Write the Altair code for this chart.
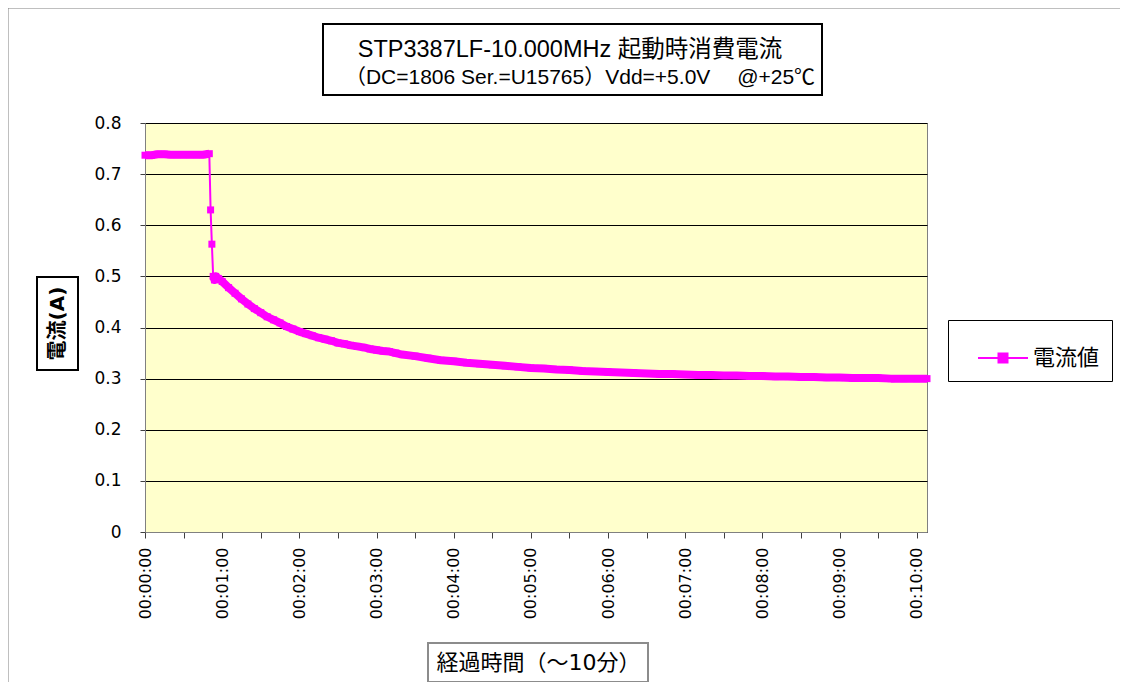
import altair as alt
import pandas as pd

# ---- data ----
times_s = [0, 5, 10, 15, 20, 25, 30, 35, 40, 45, 50, 51, 52, 53, 54, 55, 57,
           60, 65, 70, 75, 80, 85, 90, 95, 100, 105, 110, 115, 120, 125, 130,
           135, 140, 145, 150, 155, 160, 165, 170, 175, 180, 185, 190, 195, 200,
           210, 220, 230, 240, 250, 260, 270, 280, 290, 300, 310, 320, 330,
           340, 350, 360, 370, 380, 390, 400, 410, 420, 430, 440, 450, 460,
           470, 480, 490, 500, 510, 520, 530, 540, 550, 560, 570, 580, 590,
           600, 608]
current_a = [0.737, 0.737, 0.739, 0.739, 0.738, 0.738, 0.738, 0.738, 0.738,
             0.738, 0.740, 0.630, 0.563, 0.500, 0.493, 0.500, 0.496,
             0.490, 0.478, 0.467, 0.456, 0.446, 0.437, 0.429, 0.421, 0.415,
             0.409, 0.402, 0.397, 0.392, 0.388, 0.384, 0.380, 0.377, 0.374,
             0.370, 0.368, 0.365, 0.363, 0.361, 0.358, 0.356, 0.354, 0.353,
             0.350, 0.347, 0.344, 0.340, 0.336, 0.334, 0.331, 0.329, 0.327,
             0.325, 0.323, 0.321, 0.320, 0.318, 0.317, 0.315, 0.314, 0.313,
             0.312, 0.311, 0.310, 0.309, 0.309, 0.308, 0.307, 0.307, 0.306,
             0.306, 0.305, 0.305, 0.304, 0.304, 0.303, 0.303, 0.302, 0.302,
             0.301, 0.301, 0.301, 0.300, 0.300, 0.300, 0.300]
series_name = "電流値"
y_tick_values = [0, 0.1, 0.2, 0.3, 0.4, 0.5, 0.6, 0.7, 0.8]
x_tick_values = [0, 30, 60, 90, 120, 150, 180, 210, 240, 270, 300, 330, 360,
                 390, 420, 450, 480, 510, 540, 570, 600]
title_line1 = "STP3387LF-10.000MHz 起動時消費電流"
title_line2 = "（DC=1806 Ser.=U15765）Vdd=+5.0V　 @+25℃"
y_title = "電流(A)"
x_title = "経過時間（〜10分）"

df = pd.DataFrame({"t": times_s, "i": current_a, "series": series_name})

W, H = 782, 409
FONT = "DejaVu Sans, Noto Sans CJK JP"
TFONT = "Liberation Sans, Noto Sans CJK JP"
MAG = "#FF00FF"

x_enc = alt.X(
    "t:Q",
    scale=alt.Scale(domain=[0, 608], nice=False, zero=False),
    axis=alt.Axis(
        values=x_tick_values,
        labelExpr="datum.value % 60 == 0 ? '00:' + (datum.value < 600 ? '0' : '') + (datum.value / 60) + ':00' : ''",
        labelAngle=270,
        labelOverlap=False,
        labelFlush=False,
        labelFont=FONT,
        labelFontSize=16,
        labelColor="black",
        labelPadding=9,
        tickSize=6,
        tickColor="#404040",
        domainColor="#808080",
        grid=False,
        title=x_title,
        titleFont=FONT,
        titleFontSize=22,
        titleFontWeight="normal",
        titleColor="black",
        titleX=393,
        titleY=130,
        titleAlign="center",
        titleBaseline="middle",
    ),
)
y_enc = alt.Y(
    "i:Q",
    scale=alt.Scale(domain=[0, 0.8], nice=False),
    axis=alt.Axis(
        values=y_tick_values,
        format=".1~f",
        labelFont=FONT,
        labelFontSize=17,
        labelColor="black",
        labelPadding=19,
        tickSize=5,
        tickColor="#404040",
        domainColor="#808080",
        grid=True,
        gridColor="black",
        gridWidth=1,
        title=y_title,
        titleFont=FONT,
        titleFontSize=20,
        titleFontWeight="bold",
        titleColor="black",
        titleAngle=270,
        titleX=-88,
        titleY=200,
        titleAlign="center",
        titleBaseline="middle",
    ),
)

base = alt.Chart(df)

band = base.transform_filter("datum.t <= 50 || datum.t >= 53").transform_calculate(
    seg="datum.t <= 50 ? 0 : 1"
).mark_line(strokeWidth=8, color=MAG, strokeJoin="round").encode(
    x=x_enc, y=y_enc, detail="seg:N"
)

thin = base.mark_line(strokeWidth=2, color=MAG).encode(x=x_enc, y=y_enc)

pts = base.mark_point(shape="square", filled=True, size=49, opacity=1).encode(
    x=x_enc,
    y=y_enc,
    color=alt.Color(
        "series:N",
        scale=alt.Scale(domain=[series_name], range=[MAG]),
        legend=alt.Legend(
            orient="none",
            legendX=803,
            legendY=197,
            title=None,
            strokeColor="black",
            padding=12,
            symbolOffset=17,
            labelFont=FONT,
            labelFontSize=22,
            labelColor="black",
            labelOffset=4,
            symbolType="M-1,0H1M-0.18,-0.18H0.18V0.18H-0.18Z",
            symbolSize=2500,
            symbolStrokeWidth=2,
            symbolStrokeColor=MAG,
            symbolFillColor=MAG,
            symbolOpacity=1,
        ),
    ),
)

one = alt.Data(values=[{"k": 1}])


def box(x1, x2, y1, y2, stroke, sw):
    return alt.Chart(one).mark_rect(fillOpacity=0, stroke=stroke, strokeWidth=sw).encode(
        x=alt.value(x1), x2=alt.value(x2), y=alt.value(y1), y2=alt.value(y2)
    )


def label(txt, x, y, size, weight="normal", font=TFONT):
    return alt.Chart(one).mark_text(
        font=font, fontSize=size, fontWeight=weight, color="black",
        align="center", baseline="middle"
    ).encode(x=alt.value(x), y=alt.value(y), text=alt.value(txt))


frame = box(-137, W + 400, -115, H + 400, "#808080", 1)
title_box = box(178, 677, -99, -28, "black", 2)
ytitle_box = box(-108, -67, 154, 247, "black", 2)
xtitle_box = box(283, 503, 520, 559, "#8c8c8c", 2)
t1 = label(title_line1, 425, -73, 23.5)
t2 = label(title_line2, 435, -45, 21)

chart = alt.layer(
    frame, band, thin, pts, title_box, t1, t2, ytitle_box, xtitle_box
).properties(
    width=W,
    height=H,
    autosize=alt.AutoSizeParams(type="none"),
    padding={"left": 137, "top": 115, "right": 193, "bottom": 150},
    background="white",
).configure_view(fill="#FFFFCC", stroke="#808080", strokeWidth=1)

chart.save("out.html", embed_options={"renderer": "svg", "actions": False})
